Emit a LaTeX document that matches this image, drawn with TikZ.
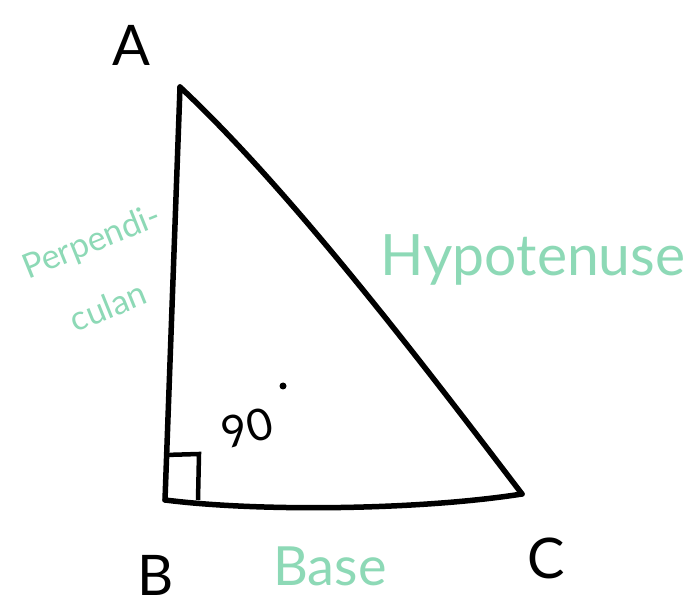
\documentclass[tikz,border=0pt]{standalone}
\usepackage{fontspec}
\setmainfont{Lato}
\definecolor{mint}{HTML}{8DD9B6}
\begin{document}
\begin{tikzpicture}[x=1pt,y=-1pt,
  edge/.style={line width=5.5pt,line cap=round,line join=round},
  vlabel/.style={font=\fontsize{56}{58}\selectfont},
  gtext/.style={text=mint,font=\fontsize{#1}{#1}\selectfont},
  gtext/.default=40]
\useasboundingbox (0,0) rectangle (694,612);
\fill[white] (0,0) rectangle (694,612);
\coordinate (A) at (180,87);
\coordinate (B) at (165,500);
\coordinate (C) at (522,494);
\draw[edge] (A) -- (B);
\draw[edge] (B) .. controls (260,512) and (420,510) .. (C);
\draw[edge] (C) .. controls (420,360) and (290,190) .. (A);
\coordinate (s1) at (165,455);
\coordinate (s2) at (199,454);
\coordinate (s3) at (198,500);
\draw[line width=4.5pt] (s1) -- (s2) -- (s3);
\node[vlabel] (la) at (131,45) {A};
\node[vlabel] (lb) at (156,575) {B};
\node[vlabel] (lc) at (546,558) {C};
\node[font=\fontsize{44}{44}\selectfont,rotate=15] (n90) at (247,428) {90};
\fill (283,386) circle (3.5pt);
\node[gtext=57] (hyp) at (533,260) {Hypotenuse};
\node[gtext=54] (base) at (330,566) {Base};
\node[gtext=34,rotate=22] (p1) at (92,243) {Perpendi-};
\node[gtext=34,rotate=22] (p2) at (108,306) {culan};
\end{tikzpicture}
\end{document}
